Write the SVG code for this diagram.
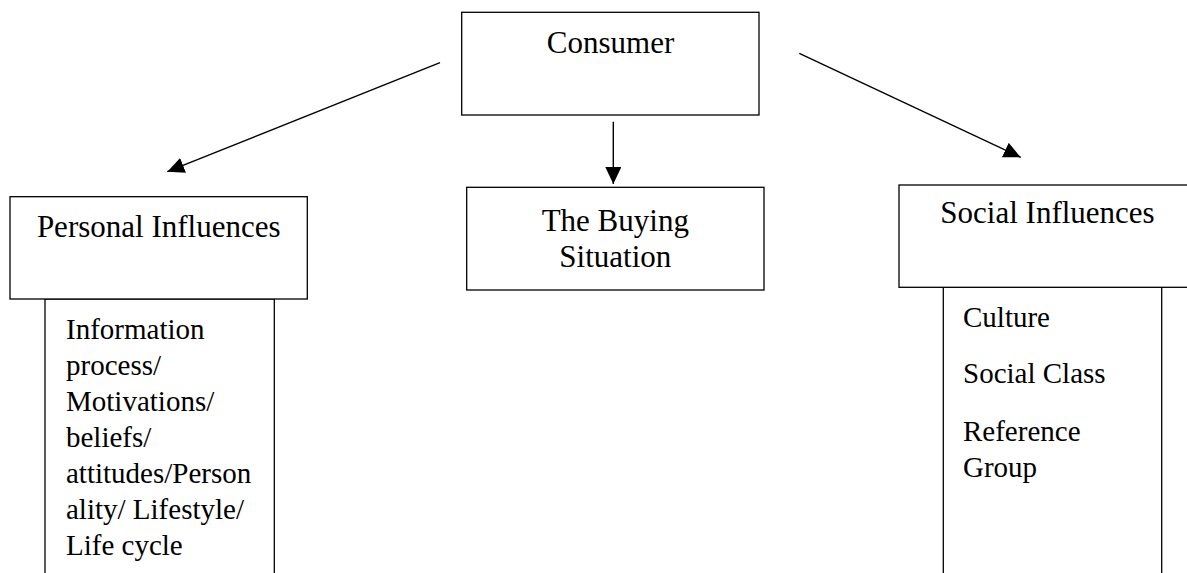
<svg xmlns="http://www.w3.org/2000/svg" width="1187" height="573" viewBox="0 0 1187 573">
  <style>
    .box { fill: #ffffff; stroke: #000000; stroke-width: 1.3; }
    .link { fill: none; stroke: #000000; stroke-width: 1.4; }
    .title { font-family: "Liberation Serif", "Times New Roman", serif; font-size: 31px; fill: #000000; }
    .item { font-family: "Liberation Serif", "Times New Roman", serif; font-size: 29px; fill: #000000; }
  </style>
  <defs>
    <marker id="arrow" markerUnits="userSpaceOnUse" markerWidth="18" markerHeight="18" refX="17" refY="8" orient="auto">
      <path d="M0,0 L17,8 L0,16 Z" fill="#000000"/>
    </marker>
  </defs>
  <rect width="1187" height="573" fill="#ffffff"/>

  <!-- connectors -->
  <g id="connectors">
    <line class="link" x1="440" y1="62.7" x2="167.3" y2="171.7" marker-end="url(#arrow)"/>
    <line class="link" x1="613.3" y1="121.7" x2="613.3" y2="184" marker-end="url(#arrow)"/>
    <line class="link" x1="799.3" y1="53.3" x2="1020.7" y2="157.3" marker-end="url(#arrow)"/>
  </g>

  <!-- top node -->
  <g id="consumer">
    <rect class="box" x="461.7" y="12.3" width="297.3" height="102.7"/>
    <text class="title" x="610.5" y="53.3" text-anchor="middle">Consumer</text>
  </g>

  <!-- left branch -->
  <g id="personal-details">
    <rect class="box" x="45" y="299" width="229.3" height="300"/>
    <text class="item" x="66">
      <tspan x="66" y="339">Information</tspan>
      <tspan x="66" y="375">process/</tspan>
      <tspan x="66" y="411">Motivations/</tspan>
      <tspan x="66" y="447">beliefs/</tspan>
      <tspan x="66" y="483">attitudes/Person</tspan>
      <tspan x="66" y="519">ality/ Lifestyle/</tspan>
      <tspan x="66" y="555">Life cycle</tspan>
    </text>
  </g>
  <g id="personal">
    <rect class="box" x="10" y="196.7" width="297.3" height="102.3"/>
    <text class="title" x="158.7" y="237.3" text-anchor="middle">Personal Influences</text>
  </g>

  <!-- middle branch -->
  <g id="buying-situation">
    <rect class="box" x="466.7" y="187.3" width="297.3" height="102.7"/>
    <text class="title" x="615.3" y="231" text-anchor="middle">The Buying</text>
    <text class="title" x="615.3" y="267" text-anchor="middle">Situation</text>
  </g>

  <!-- right branch -->
  <g id="social-details">
    <rect class="box" x="943.3" y="287.3" width="218.4" height="320"/>
    <text class="item" x="963" y="327">Culture</text>
    <text class="item" x="963" y="383">Social Class</text>
    <text class="item" x="963" y="441">Reference</text>
    <text class="item" x="963" y="477">Group</text>
  </g>
  <g id="social">
    <rect class="box" x="899" y="185" width="297.3" height="102.3"/>
    <text class="title" x="1047.5" y="223.3" text-anchor="middle">Social Influences</text>
  </g>
</svg>
